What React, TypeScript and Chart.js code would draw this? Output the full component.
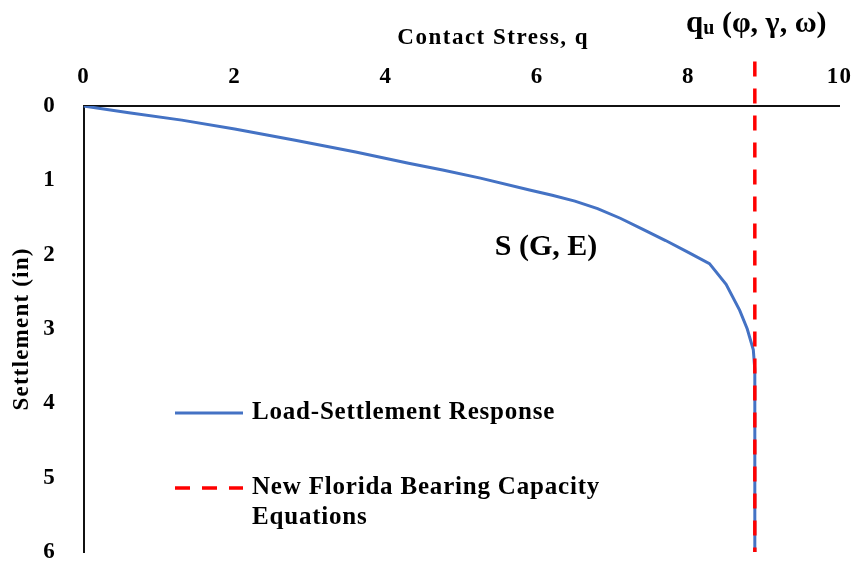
import React, { useEffect, useRef } from 'react';
import { Chart, registerables } from 'chart.js';

Chart.register(...registerables);

const SERIF = "'Liberation Serif', 'Times New Roman', serif";
const INK = '#000';

// Load-settlement response: contact stress q and settlement (in)
const stressQ = [0, 0.6, 1.3, 2.0, 2.8, 3.6, 4.3, 4.75, 5.25, 5.9, 6.2, 6.5, 6.8, 7.1, 7.4, 7.7, 8.0, 8.28, 8.5, 8.68, 8.78, 8.86, 8.88, 8.88];
const settlementIn = [0, 0.09, 0.19, 0.31, 0.46, 0.62, 0.77, 0.86, 0.97, 1.13, 1.2, 1.28, 1.38, 1.51, 1.66, 1.81, 1.97, 2.12, 2.4, 2.75, 3.0, 3.28, 3.55, 6.0];

// Bearing capacity from the new Florida equations (vertical limit line)
const capacityQ = [8.88, 8.88];
const capacitySettlement = [-0.6, 6.0];

// Axis ticks
const xTickValues = [0, 2, 4, 6, 8, 10];
const yTickValues = [0, 1, 2, 3, 4, 5, 6];

// Legend entries (each entry may wrap over several lines)
const legendLines = [['Load-Settlement Response'], ['New Florida Bearing Capacity', 'Equations']];
const seriesColors = ['#4472C4', '#FF0000'];

// Text labels placed in data space
const xAxisTitle = { text: 'Contact Stress, q', q: 5.42 };
const curveLabel = { text: 'S (G, E)', q: 5.44, s: 1.9 };
const capacityLabel = { q: 7.97 };

const letterSpacingPlugin = {
  id: 'letterSpacing',
  beforeLayout(chart: any) {
    chart.ctx.letterSpacing = '1.2px';
  },
  beforeDraw(chart: any) {
    chart.ctx.letterSpacing = '1.2px';
  },
};

const labelsPlugin = {
  id: 'customLabels',
  afterDraw(chart: any) {
    const { ctx, chartArea, scales } = chart;
    const xs = scales.x;
    const ys = scales.y;
    ctx.save();

    // Horizontal axis title
    ctx.fillStyle = INK;
    ctx.font = `bold 23px ${SERIF}`;
    ctx.letterSpacing = '1.5px';
    ctx.textAlign = 'center';
    ctx.textBaseline = 'middle';
    ctx.fillText(xAxisTitle.text, xs.getPixelForValue(xAxisTitle.q), 38);

    // Legend inside the plot area
    const sampleLeft = chartArea.left + 91.5;
    const sampleRight = chartArea.left + 159.5;
    const textLeft = chartArea.left + 168.5;
    const rowTops = [chartArea.top + 307, chartArea.top + 382];
    chart.data.datasets.forEach((ds: any, i: number) => {
      const y = rowTops[i];
      ctx.beginPath();
      ctx.strokeStyle = ds.borderColor;
      ctx.lineWidth = ds.borderWidth;
      ctx.setLineDash(ds.borderDash || []);
      ctx.moveTo(sampleLeft, y);
      ctx.lineTo(sampleRight, y);
      ctx.stroke();
      ctx.setLineDash([]);
      ctx.fillStyle = INK;
      ctx.font = `bold 25px ${SERIF}`;
      ctx.letterSpacing = '0.8px';
      ctx.textAlign = 'left';
      ctx.textBaseline = 'middle';
      legendLines[i].forEach((line: string, j: number) => {
        ctx.fillText(line, textLeft, y + j * 30);
      });
    });

    // S (G, E) next to the curve
    ctx.letterSpacing = '0px';
    ctx.fillStyle = INK;
    ctx.font = `bold 30px ${SERIF}`;
    ctx.textAlign = 'left';
    ctx.textBaseline = 'middle';
    ctx.fillText(curveLabel.text, xs.getPixelForValue(curveLabel.q), ys.getPixelForValue(curveLabel.s));

    // q_u (φ, γ, ω) above the capacity line
    let x = xs.getPixelForValue(capacityLabel.q);
    const base = 32;
    ctx.textBaseline = 'alphabetic';
    ctx.font = `bold 31px ${SERIF}`;
    ctx.fillText('q', x, base);
    x += ctx.measureText('q').width;
    ctx.font = `bold 20px ${SERIF}`;
    ctx.fillText('u', x, base + 2);
    x += ctx.measureText('u').width;
    ctx.font = `bold 30px ${SERIF}`;
    ctx.fillText(' (φ, γ, ω)', x, base);

    ctx.restore();
  },
};

export default function App() {
  const canvasRef = useRef<HTMLCanvasElement | null>(null);

  useEffect(() => {
    const canvas = canvasRef.current;
    if (!canvas) return;
    const tickFont = { family: SERIF, size: 23, weight: 'bold' as const };

    const chart = new Chart(canvas, {
      type: 'line',
      data: {
        datasets: [
          {
            label: legendLines[0].join(' '),
            data: stressQ.map((q, i) => ({ x: q, y: settlementIn[i] })),
            borderColor: seriesColors[0],
            borderWidth: 3,
            pointRadius: 0,
            tension: 0,
            fill: false,
            order: 1,
          },
          {
            label: legendLines[1].join(' '),
            data: capacityQ.map((q, i) => ({ x: q, y: capacitySettlement[i] })),
            borderColor: seriesColors[1],
            borderWidth: 3.5,
            borderDash: [15, 12],
            pointRadius: 0,
            fill: false,
            clip: false,
            order: 0,
          },
        ],
      },
      options: {
        responsive: false,
        animation: false,
        layout: { padding: { left: 0, top: 0, right: 14.5, bottom: 9 } },
        plugins: {
          legend: { display: false },
          tooltip: { enabled: false },
        },
        scales: {
          x: {
            type: 'linear',
            position: 'top',
            min: 0,
            max: 10,
            grid: { display: false, drawTicks: false },
            border: { display: true, color: '#111', width: 2 },
            afterBuildTicks: (scale: any) => {
              scale.ticks = xTickValues.map((v) => ({ value: v }));
            },
            afterFit: (scale: any) => {
              scale.height = 106;
              scale.paddingLeft = 0;
              scale.paddingRight = 0;
            },
            ticks: { font: tickFont, color: INK, padding: 15, autoSkip: false, maxRotation: 0 },
            title: { display: false },
          },
          y: {
            type: 'linear',
            reverse: true,
            min: 0,
            max: 6,
            grid: { display: false, drawTicks: false },
            border: { display: true, color: '#111', width: 2 },
            afterBuildTicks: (scale: any) => {
              scale.ticks = yTickValues.map((v) => ({ value: v }));
            },
            afterFit: (scale: any) => {
              scale.width = 83.5;
              scale.paddingTop = 0;
              scale.paddingBottom = 0;
            },
            ticks: { font: tickFont, color: INK, padding: 27.5, autoSkip: false },
            title: {
              display: true,
              text: 'Settlement (in)',
              font: { family: SERIF, size: 23, weight: 'bold' },
              color: INK,
              padding: { top: 8, bottom: 0 },
            },
          },
        },
      },
      plugins: [letterSpacingPlugin, labelsPlugin],
    });

    return () => chart.destroy();
  }, []);

  return (
    <div style={{ position: 'fixed', left: 0, top: 0, width: 854, height: 561, background: '#fff' }}>
      <canvas ref={canvasRef} width={854} height={561} style={{ display: 'block' }} />
    </div>
  );
}
